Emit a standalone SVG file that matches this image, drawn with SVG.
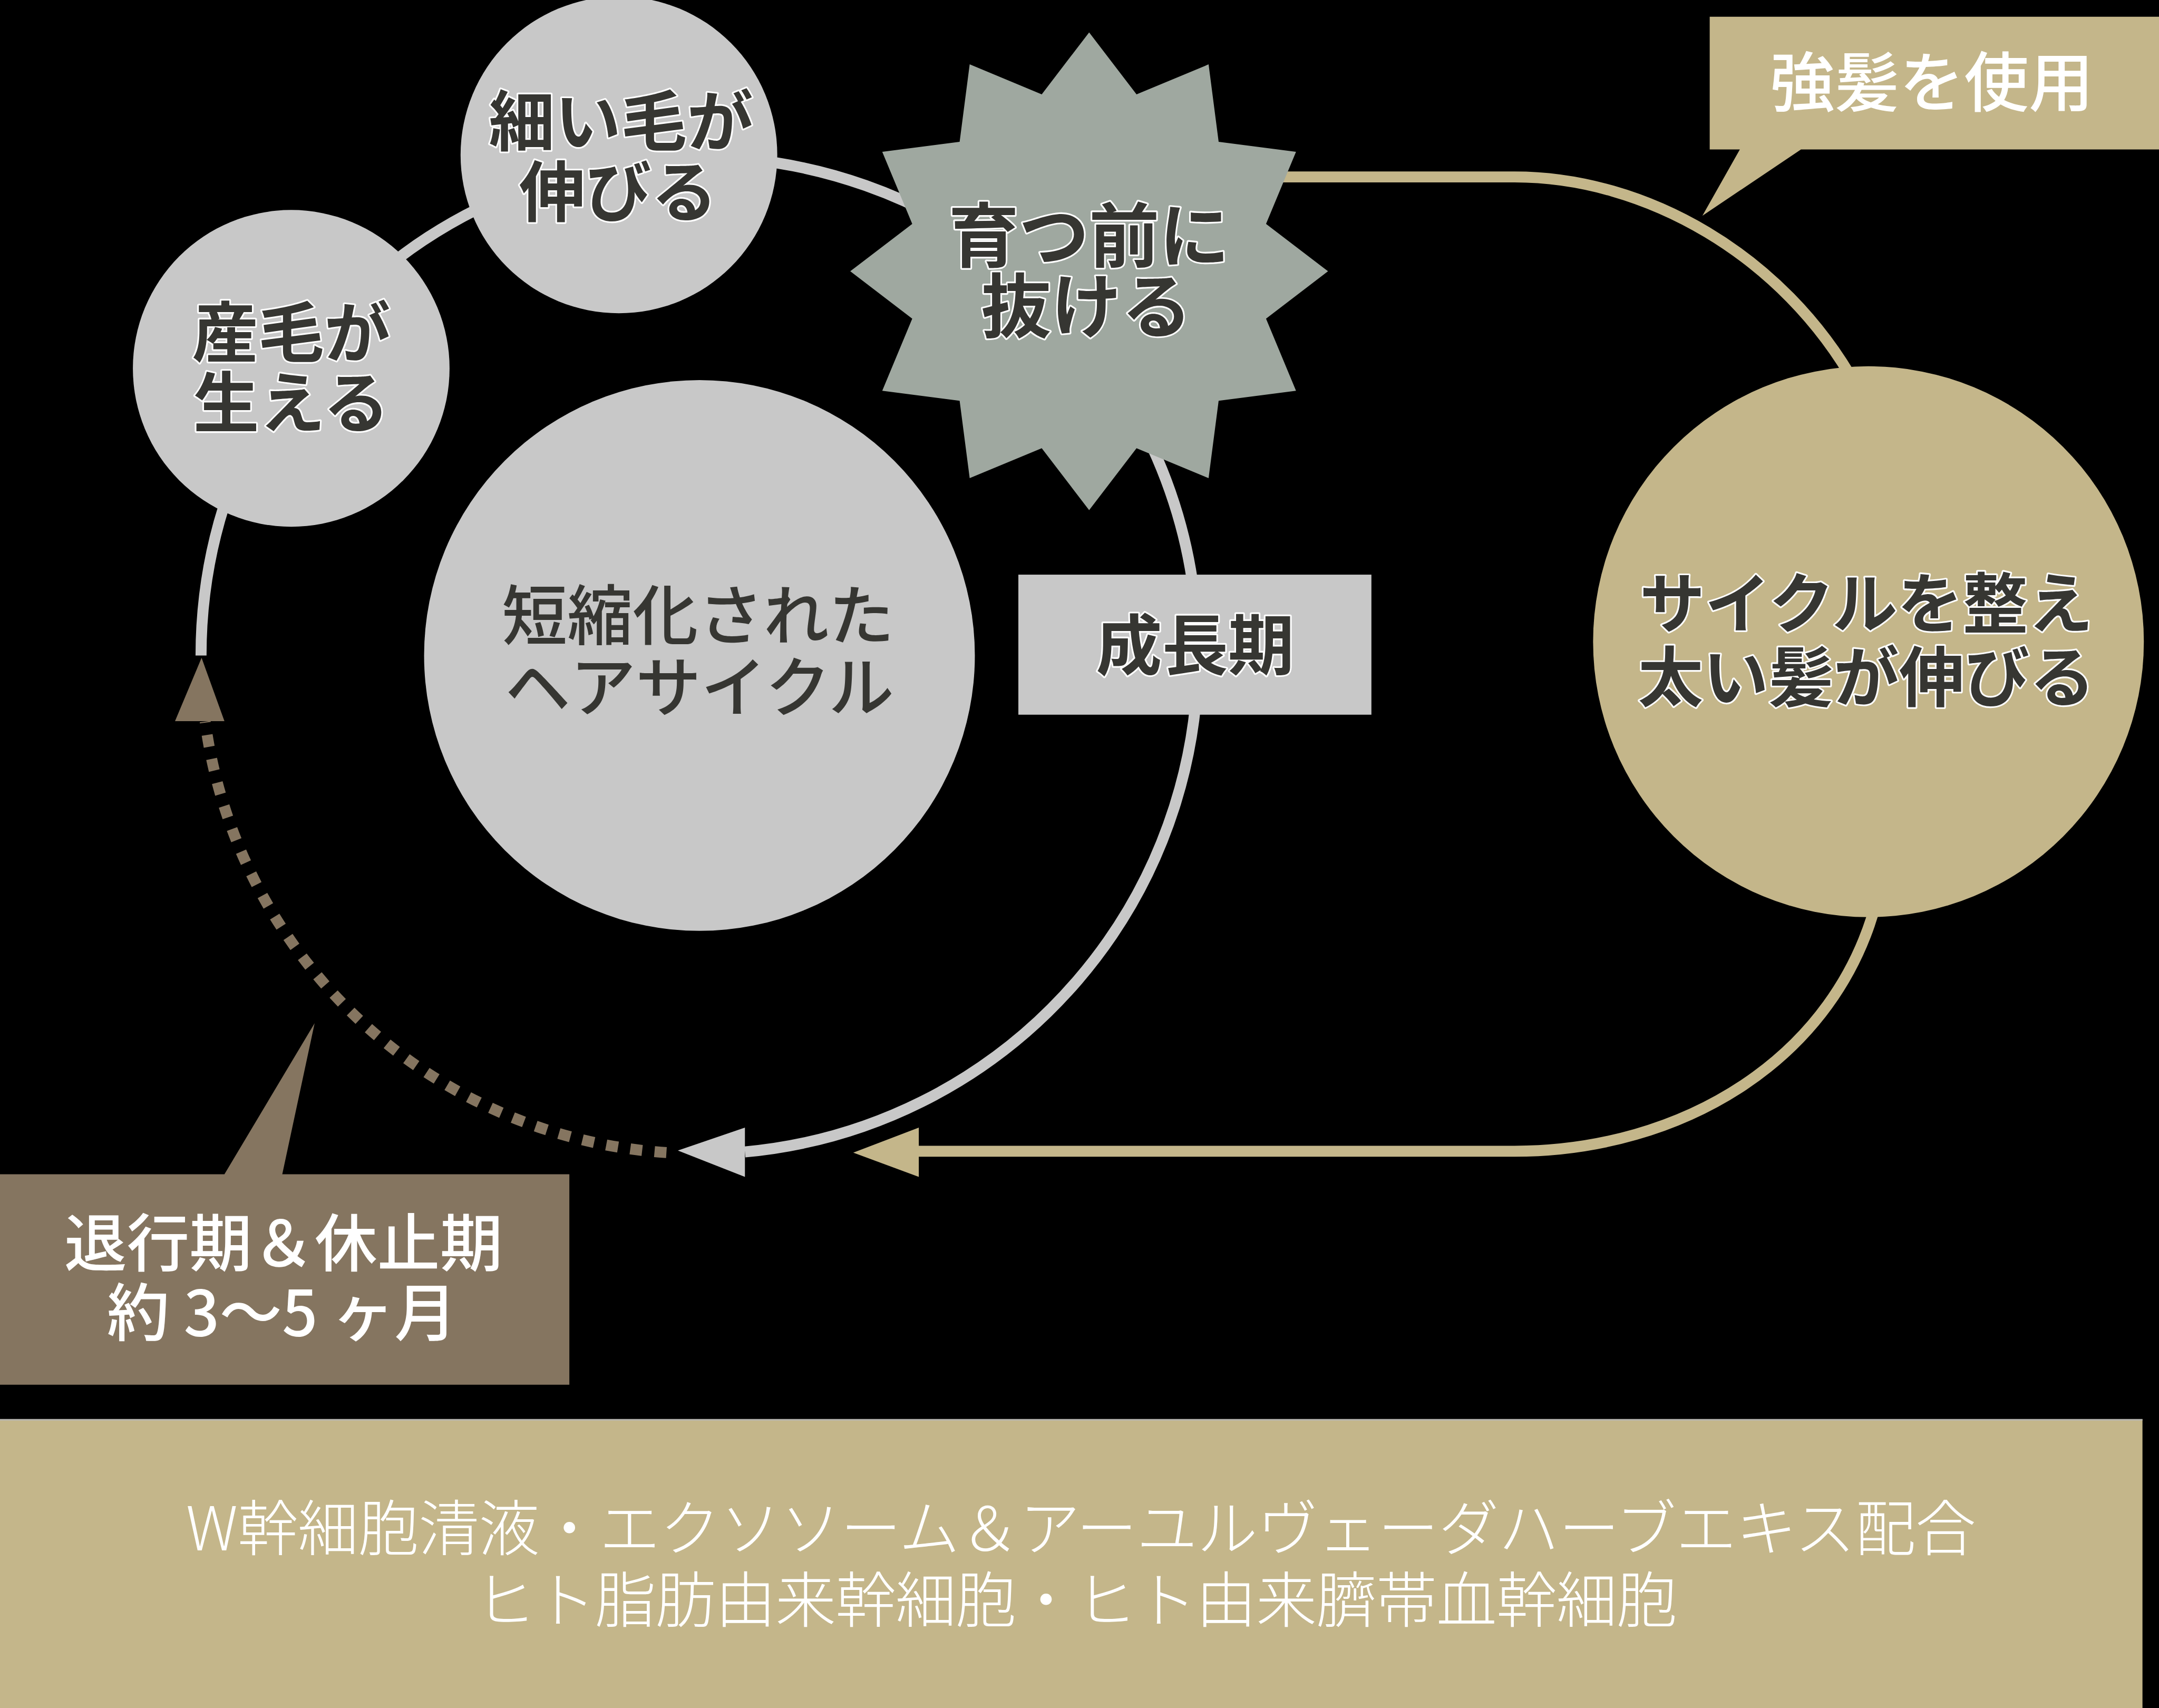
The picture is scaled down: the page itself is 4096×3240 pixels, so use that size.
<svg xmlns="http://www.w3.org/2000/svg" width="4096" height="3240" viewBox="0 0 4096 3240">
<defs>
<style>
.jp{font-family:"Noto Sans CJK JP","Noto Sans CJK SC",sans-serif;text-anchor:middle}
.lbl{font-weight:700;fill:#363632;stroke:#ffffff;stroke-width:2.4;stroke-linejoin:round;paint-order:stroke}
.plain{font-weight:500;fill:#363632}
.wt{font-weight:500;fill:#ffffff}
.band{font-weight:300;fill:#ffffff}
.gray{fill:#c8c8c8}
.gold{fill:#c4b68a}
.brown{fill:#857560}
.line{fill:none;stroke-width:8}
</style>
</defs>
<rect x="0" y="0" width="4096" height="3240" fill="#000000"/>
<g transform="scale(2.61224)">
  <g id="connectors">
    <path class="line" stroke="#c8c8c8" d="M 146,476 A 362 362 0 1 1 541,836.5"/>
    <path class="line" stroke="#857560" stroke-width="8.7" stroke-dasharray="8.7 9" d="M 484,837 A 362 362 0 0 1 149,524"/>
    <path class="line" stroke="#c4b68a" d="M 880,128.5 L 1100,128.5 C 1195,128.5 1295,185 1348,280 L 1364,650 C 1335,770 1220,836 1100,836 L 667,836"/>
    <polygon class="gray" points="492.3,835.5 541,818.8 541,854.6"/>
    <polygon class="brown" points="146.4,477.7 127.1,523.7 163,523.7"/>
    <polygon class="gold" points="619.7,837 667.3,818.8 667.3,854.6"/>
  </g>
  <g id="node-ubuge">
    <circle class="gray" cx="211.5" cy="267.5" r="115"/>
    <text class="jp lbl" font-size="48"><tspan x="211.5" y="259">産毛が</tspan><tspan x="211.5" y="310">生える</tspan></text>
  </g>
  <g id="node-hosoi">
    <circle class="gray" cx="449.5" cy="112.5" r="115"/>
    <text class="jp lbl" font-size="48"><tspan x="451" y="105.5">細い毛が</tspan><tspan x="449" y="157">伸びる</tspan></text>
  </g>
  <g id="node-sodatsu">
    <polygon fill="#9fa8a0" points="791,23.5 825.42,68.53 877.75,46.75 885.05,102.95 941.25,110.25 919.47,162.58 964.5,197 919.47,231.42 941.25,283.75 885.05,291.05 877.75,347.25 825.42,325.47 791,370.5 756.58,325.47 704.25,347.25 696.95,291.05 640.75,283.75 662.53,231.42 617.5,197 662.53,162.58 640.75,110.25 696.95,102.95 704.25,46.75 756.58,68.53"/>
    <text class="jp lbl" font-size="51"><tspan x="791" y="190">育つ前に</tspan><tspan x="789" y="241">抜ける</tspan></text>
  </g>
  <g id="node-tanshuku">
    <circle class="gray" cx="508" cy="476" r="200"/>
    <text class="jp plain" font-size="47.5"><tspan x="507" y="464.5">短縮化された</tspan><tspan x="508" y="516.5">ヘアサイクル</tspan></text>
  </g>
  <g id="node-seichoki">
    <rect class="gray" x="739.6" y="417.3" width="256.4" height="101.7"/>
    <text class="jp lbl" font-size="48" x="868" y="486">成長期</text>
  </g>
  <g id="node-cycle">
    <circle class="gold" cx="1357" cy="466" r="200"/>
    <text class="jp lbl" font-size="47.4"><tspan x="1355.5" y="455.5">サイクルを整え</tspan><tspan x="1355.5" y="509">太い髪が伸びる</tspan></text>
  </g>
  <g id="node-kyouhatsu">
    <polygon class="gold" points="1241.7,12.2 1568,12.2 1568,108.5 1308,108.5 1236.4,156.7 1263.6,108.5 1241.7,108.5"/>
    <text class="jp wt" font-size="47" x="1403" y="77">強髪を使用</text>
  </g>
  <g id="node-taikouki">
    <polygon class="brown" points="0,852.7 163,852.7 228.5,743 205,852.7 413.5,852.7 413.5,1005.6 0,1005.6"/>
    <text class="jp wt" font-size="45.5"><tspan x="205.8" y="919.5">退行期＆休止期</tspan><tspan x="204.8" y="970">約 3〜5 ヶ月</tspan></text>
  </g>
  <g id="node-band">
    <rect class="gold" x="0" y="1030.6" width="1556" height="220"/>
    <line x1="0" y1="1031" x2="1556" y2="1031" stroke="#b8b6b0" stroke-width="1.2"/>
    <text class="jp band" font-size="44"><tspan x="785" y="1126" textLength="1300">W幹細胞清液・エクソソーム＆アーユルヴェーダハーブエキス配合</tspan><tspan x="781.5" y="1178" textLength="873">ヒト脂肪由来幹細胞・ヒト由来臍帯血幹細胞</tspan></text>
  </g>
</g>
</svg>
